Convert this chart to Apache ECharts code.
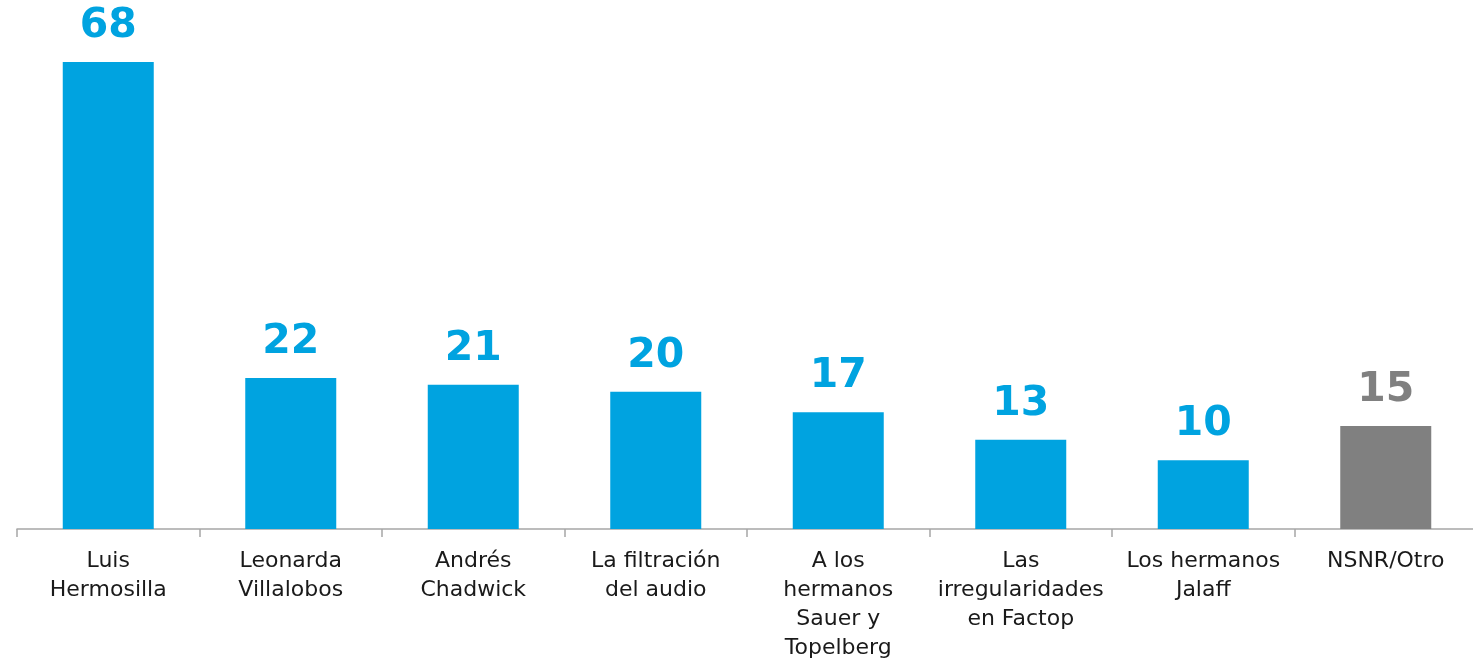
<!DOCTYPE html>
<html>
<head>
<meta charset="utf-8">
<script src="https://cdn.jsdelivr.net/npm/echarts@6/dist/echarts.min.js"></script>
<style>
html,body{margin:0;padding:0;background:#fff;}
#chart{width:1473px;height:661px;}
</style>
</head>
<body>
<div id="chart"></div>
<script>
const categories = [
  "Luis\nHermosilla",
  "Leonarda\nVillalobos",
  "Andrés\nChadwick",
  "La filtración\ndel audio",
  "A los\nhermanos\nSauer y\nTopelberg",
  "Las\nirregularidades\nen Factop",
  "Los hermanos\nJalaff",
  "NSNR/Otro"
];
const values = [68, 22, 21, 20, 17, 13, 10, 15];
const otherCategory = "NSNR/Otro";

const BLUE = '#00A3E0';
const GRAY = '#808080';
const FONT = '"DejaVu Sans", sans-serif';

const chart = echarts.init(document.getElementById('chart'));
chart.setOption({
  animation: false,
  grid: { left: 17, top: 62, width: 1460, height: 467, outerBoundsMode: 'none', containLabel: false },
  xAxis: {
    type: 'category',
    data: categories,
    axisLine: { lineStyle: { color: '#A6A6A6', width: 1.5 } },
    axisTick: { show: true, length: 8, alignWithLabel: false, lineStyle: { color: '#A6A6A6', width: 1.5 } },
    axisLabel: {
      interval: 0, color: '#1a1a1a', fontFamily: FONT, fontSize: 22,
      lineHeight: 29, margin: 18
    }
  },
  yAxis: {
    type: 'value', min: 0, max: 68, show: false,
    splitLine: { show: false }
  },
  series: [{
    type: 'bar',
    barWidth: 91,
    data: values.map((v, i) => {
      const c = categories[i] === otherCategory ? GRAY : BLUE;
      return { value: v, itemStyle: { color: c }, label: { color: c } };
    }),
    label: {
      show: true, position: 'top', distance: 15,
      fontFamily: FONT, fontWeight: 'bold', fontSize: 41
    }
  }]
});
</script>
</body>
</html>
